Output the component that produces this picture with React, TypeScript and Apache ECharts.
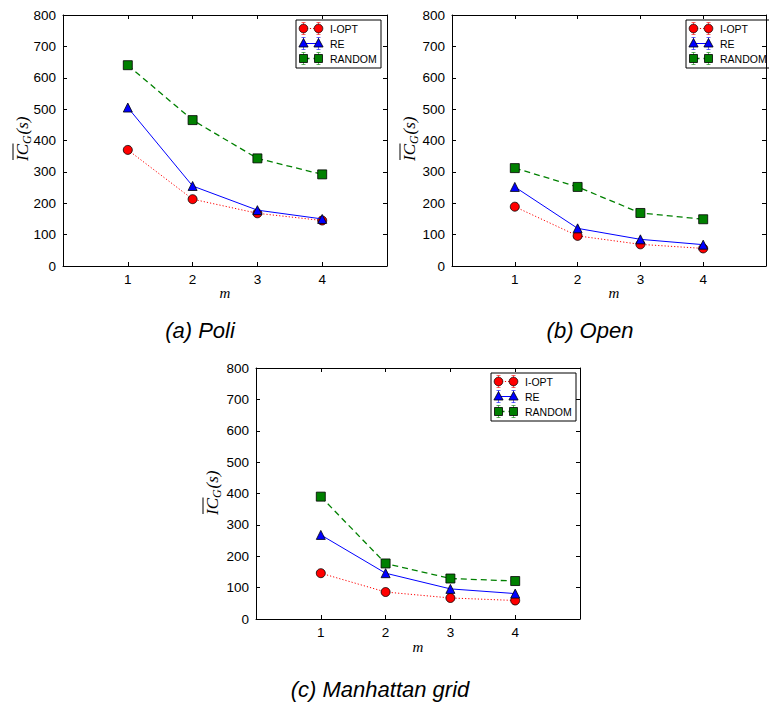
import React, { useEffect, useRef } from "react";
import * as echarts from "echarts";

const mValues = [1, 2, 3, 4];
const seriesNames = ["I-OPT", "RE", "RANDOM"];
const captions = ["(a) Poli", "(b) Open", "(c) Manhattan grid"];

const poliIOpt = [370, 213, 168, 145];
const poliRE = [505, 255, 178, 150];
const poliRandom = [640, 465, 343, 292];

const openIOpt = [189, 96, 69, 56];
const openRE = [252, 120, 85, 68];
const openRandom = [312, 252, 169, 149];

const manIOpt = [146, 86, 67, 59];
const manRE = [268, 146, 96, 81];
const manRandom = [390, 177, 129, 121];

const panelData = [
  [poliIOpt, poliRE, poliRandom],
  [openIOpt, openRE, openRandom],
  [manIOpt, manRE, manRandom],
];

const RED = "#ff0000";
const BLUE = "#0000ff";
const GREEN = "#008000";

const grids = [
  { left: 63, top: 15, width: 324, height: 251 },
  { left: 452, top: 15, width: 325, height: 251 },
  { left: 256, top: 368, width: 324, height: 251 },
];

const styles = [
  { color: RED, symbol: "circle", line: { type: [1.2, 2], width: 1 }, size: 9 },
  { color: BLUE, symbol: "triangle", line: { type: "solid", width: 1 }, size: 9 },
  { color: GREEN, symbol: "rect", line: { type: [6, 4], width: 1.3 }, size: 9 },
];

function yLabel(cx: number, cy: number) {
  const font = "italic 17px 'Liberation Serif', serif";
  return {
    type: "group",
    x: cx,
    y: cy,
    rotation: Math.PI / 2,
    children: [
      { type: "text", x: -23, y: 0, style: { text: "IC", font, fill: "#000", verticalAlign: "middle", align: "left" } },
      { type: "text", x: -6, y: 5, style: { text: "G", font: "italic 12px 'Liberation Serif', serif", fill: "#000", verticalAlign: "middle", align: "left" } },
      { type: "text", x: 3.5, y: 0, style: { text: "(s)", font, fill: "#000", verticalAlign: "middle", align: "left" } },
      { type: "line", shape: { x1: -22, y1: -9, x2: -5.5, y2: -9 }, style: { stroke: "#000", lineWidth: 1 } },
    ],
  };
}

function legend(L: number, T: number) {
  const children: any[] = [
    { type: "rect", shape: { x: L, y: T, width: 85, height: 48 }, style: { fill: "#fff", stroke: "#000", lineWidth: 1 } },
  ];
  seriesNames.forEach((name, i) => {
    const y = T + 8.5 + i * 15;
    const s = styles[i];
    const x1 = L + 7.5;
    const x2 = L + 22.5;
    children.push({
      type: "line",
      shape: { x1, y1: y, x2, y2: y },
      style: { stroke: s.color, lineWidth: s.line.width, lineDash: s.line.type === "solid" ? null : s.line.type },
    });
    [x1, x2].forEach((x) => {
      children.push({ type: "line", shape: { x1: x, y1: y - 6, x2: x, y2: y + 6 }, style: { stroke: s.color, lineWidth: 1, opacity: 0.6 } });
      children.push({ type: "line", shape: { x1: x - 2, y1: y - 6, x2: x + 2, y2: y - 6 }, style: { stroke: s.color, lineWidth: 1, opacity: 0.6 } });
      children.push({ type: "line", shape: { x1: x - 2, y1: y + 6, x2: x + 2, y2: y + 6 }, style: { stroke: s.color, lineWidth: 1, opacity: 0.6 } });
      if (i === 0) {
        children.push({ type: "circle", shape: { cx: x, cy: y, r: 4.3 }, style: { fill: RED, stroke: "#000", lineWidth: 0.8 } });
      } else if (i === 1) {
        children.push({
          type: "polygon",
          shape: { points: [[x, y - 5], [x - 4.6, y + 3.5], [x + 4.6, y + 3.5]] },
          style: { fill: BLUE, stroke: "#000", lineWidth: 0.8 },
        });
      } else {
        children.push({ type: "rect", shape: { x: x - 4, y: y - 4, width: 8, height: 8 }, style: { fill: GREEN, stroke: "#000", lineWidth: 0.8 } });
      }
    });
    children.push({
      type: "text",
      x: L + 34,
      y,
      style: { text: name, font: "10.5px 'Liberation Sans', Arial, sans-serif", fill: "#000", verticalAlign: "middle", align: "left" },
    });
  });
  return { type: "group", children };
}

export default function App() {
  const ref = useRef<HTMLDivElement>(null);
  useEffect(() => {
    if (!ref.current) return;
    const chart = echarts.init(ref.current, undefined, { renderer: "svg" });
    const axisLine = { show: true, onZero: false, lineStyle: { color: "#000", width: 1 } };
    const tick = { show: true, inside: true, length: 4, lineStyle: { color: "#000", width: 1 } };
    const labelFont = { color: "#000", fontSize: 13.5, fontFamily: "'Liberation Sans', Arial, sans-serif" };

    const xAxis: any[] = [];
    const yAxis: any[] = [];
    const series: any[] = [];
    grids.forEach((g, gi) => {
      xAxis.push({
        type: "value", gridIndex: gi, min: 0, max: 5, interval: 1, position: "bottom",
        axisLine, axisTick: tick, splitLine: { show: false },
        axisLabel: { ...labelFont, margin: 6, formatter: (v: number) => (v >= 1 && v <= 4 ? String(v) : "") },
      });
      xAxis.push({
        type: "value", gridIndex: gi, min: 0, max: 5, interval: 1, position: "top",
        axisLine, axisTick: tick, splitLine: { show: false }, axisLabel: { show: false },
      });
      yAxis.push({
        type: "value", gridIndex: gi, min: 0, max: 800, interval: 100, position: "left",
        axisLine, axisTick: tick, splitLine: { show: false },
        axisLabel: { ...labelFont, margin: 7 },
      });
      yAxis.push({
        type: "value", gridIndex: gi, min: 0, max: 800, interval: 100, position: "right",
        axisLine, axisTick: tick, splitLine: { show: false }, axisLabel: { show: false },
      });
      panelData[gi].forEach((vals, si) => {
        const s = styles[si];
        series.push({
          type: "line",
          name: seriesNames[si],
          xAxisIndex: gi * 2,
          yAxisIndex: gi * 2,
          data: mValues.map((m, k) => [m, vals[k]]),
          symbol: s.symbol,
          symbolSize: s.size,
          z: 3 + si,
          lineStyle: { color: s.color, width: s.line.width, type: s.line.type },
          itemStyle: { color: s.color, borderColor: "#000", borderWidth: 0.8 },
        });
      });
    });

    const graphic: any[] = [
      yLabel(22, 138),
      yLabel(409, 138),
      yLabel(212, 492),
      legend(296, 20),
      legend(686, 20),
      legend(491, 373),
    ];
    const mPos = [[225, 293], [614, 293], [418, 647]];
    mPos.forEach(([x, y]) => {
      graphic.push({ type: "text", x, y, style: { text: "m", font: "italic 15px 'Liberation Serif', serif", fill: "#000", align: "center", verticalAlign: "middle" } });
    });
    const capPos = [[200, 330], [590, 330], [380, 689]];
    capPos.forEach(([x, y], i) => {
      graphic.push({ type: "text", x, y, style: { text: captions[i], font: "italic 22px 'Liberation Sans', Arial, sans-serif", fill: "#000", align: "center", verticalAlign: "middle" } });
    });

    chart.setOption({
      animation: false,
      backgroundColor: "#fff",
      grid: grids.map((g) => ({ ...g, containLabel: false })),
      xAxis,
      yAxis,
      series,
      graphic,
    });
    return () => chart.dispose();
  }, []);
  return <div ref={ref} style={{ position: "fixed", left: 0, top: 0, width: 769, height: 708 }} />;
}
